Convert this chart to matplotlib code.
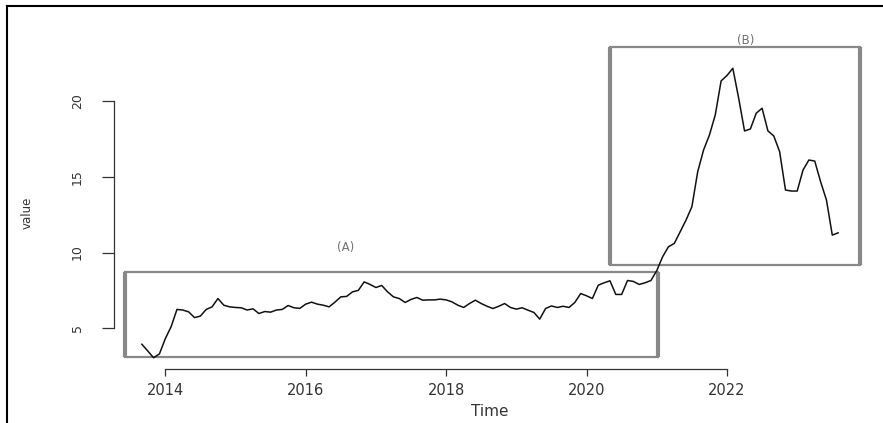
import numpy as np
import matplotlib.pyplot as plt
from matplotlib.patches import Rectangle
from matplotlib.lines import Line2D

# monthly series, Sep 2013 .. Aug 2023
start_year = 2013
start_month = 9
values = [
    3.94, 3.5, 3.05, 3.3,
    4.3, 5.1, 6.24, 6.2, 6.08, 5.7, 5.8, 6.24, 6.41, 6.96, 6.52, 6.41,
    6.37, 6.35, 6.2, 6.28, 5.97, 6.1, 6.06, 6.2, 6.24, 6.5, 6.35, 6.31,
    6.59, 6.72, 6.59, 6.52, 6.41, 6.72, 7.07, 7.1, 7.4, 7.5, 8.06, 7.89,
    7.69, 7.82, 7.4, 7.07, 6.96, 6.7, 6.9, 7.03, 6.85, 6.87, 6.87, 6.92,
    6.87, 6.74, 6.52, 6.37, 6.63, 6.85, 6.63, 6.45, 6.3, 6.45, 6.63, 6.37,
    6.26, 6.35, 6.19, 6.04, 5.6, 6.3, 6.47, 6.37, 6.45, 6.37, 6.7, 7.29,
    7.14, 6.96, 7.84, 8.0, 8.13, 7.23, 7.23, 8.15, 8.09, 7.89, 8.0, 8.15,
    8.8, 9.72, 10.38, 10.6, 11.37, 12.14, 13.02, 15.34, 16.77, 17.76, 19.09, 21.34,
    21.69, 22.17, 20.19, 18.03, 18.16, 19.2, 19.53, 18.03, 17.7, 16.66, 14.13, 14.06,
    14.06, 15.45, 16.11, 16.04, 14.68, 13.47, 11.15, 11.3,
]

# highlighted regions (x0, y0, x1, y1) and their labels
box_a = (2013.43, 3.08, 2021.02, 8.70)
box_b = (2020.34, 9.17, 2023.90, 23.58)
label_a = "(A)"
label_b = "(B)"

xticks = [2014, 2016, 2018, 2020, 2022]
yticks = [5, 10, 15, 20]

plt.rcParams['font.family'] = ['DejaVu Sans']

t = start_year + (start_month - 1) / 12 + np.arange(len(values)) / 12
v = np.array(values)

W, H = 883, 423
fig = plt.figure(figsize=(W / 100, H / 100), dpi=100)
fig.patch.set_facecolor('white')

# plot region (R style, 4% padding around the data)
left, right, top, bottom = 114, 866, 56.7, 369.3
ax = fig.add_axes([left / W, 1 - bottom / H, (right - left) / W, (bottom - top) / H])
pad_x = (t.max() - t.min()) * 0.04
pad_y = (v.max() - v.min()) * 0.04
ax.set_xlim(t.min() - pad_x, t.max() + pad_x)
ax.set_ylim(v.min() - pad_y, v.max() + pad_y)
ax.patch.set_alpha(0)

ax.plot(t, v, color='#111111', lw=1.1, zorder=3)

box_col = '#888888'
for (x0, y0, x1, y1) in (box_a, box_b):
    ax.add_patch(Rectangle((x0, y0), x1 - x0, y1 - y0, fill=False,
                           ec=box_col, lw=1.6, clip_on=False, zorder=2))
    ax.vlines([x0, x1], y0, y1, color=box_col, lw=3, clip_on=False, zorder=2)

ax.text((box_a[0] + box_a[2]) / 2 - 0.65, box_a[3] + 1.65, label_a, ha='center', va='center',
        fontsize=8.5, color='#707070', clip_on=False)
ax.text((box_b[0] + box_b[2]) / 2 + 0.15, box_b[3] + 0.4, label_b, ha='center', va='center',
        fontsize=8.5, color='#707070', clip_on=False)

for s in ('top', 'right'):
    ax.spines[s].set_visible(False)
ax.spines['left'].set_bounds(yticks[0], yticks[-1])
ax.spines['bottom'].set_bounds(xticks[0], xticks[-1])
for s in ('left', 'bottom'):
    ax.spines[s].set_color('#333333')
    ax.spines[s].set_linewidth(0.9)

ax.set_xticks(xticks)
ax.set_yticks(yticks)
ax.tick_params(axis='x', length=5, width=0.9, color='#333333', pad=5,
               labelsize=10.5, labelcolor='#333333')
ax.tick_params(axis='y', length=8.5, width=0.9, color='#333333', pad=13,
               labelsize=9, labelcolor='#333333')
for lab in ax.get_yticklabels():
    lab.set_rotation(90)
    lab.set_va('center')

ax.set_xlabel("Time", fontsize=11, color='#333333')
ax.xaxis.set_label_coords(0.5, (bottom - 412) / (bottom - top))
ax.xaxis.label.set_va('center')
ax.set_ylabel("value", fontsize=8.5, color='#333333')
ax.yaxis.set_label_coords((27 - left) / (right - left), 0.5)
ax.yaxis.label.set_va('center')

# outer frame of the cropped page
fig.add_artist(Line2D([7 / W, 7 / W], [0, 1 - 6 / H], transform=fig.transFigure,
                      color='black', lw=1.5))
fig.add_artist(Line2D([7 / W, 1], [1 - 6 / H, 1 - 6 / H], transform=fig.transFigure,
                      color='black', lw=1.5))

fig.savefig('out.png', dpi=100)
